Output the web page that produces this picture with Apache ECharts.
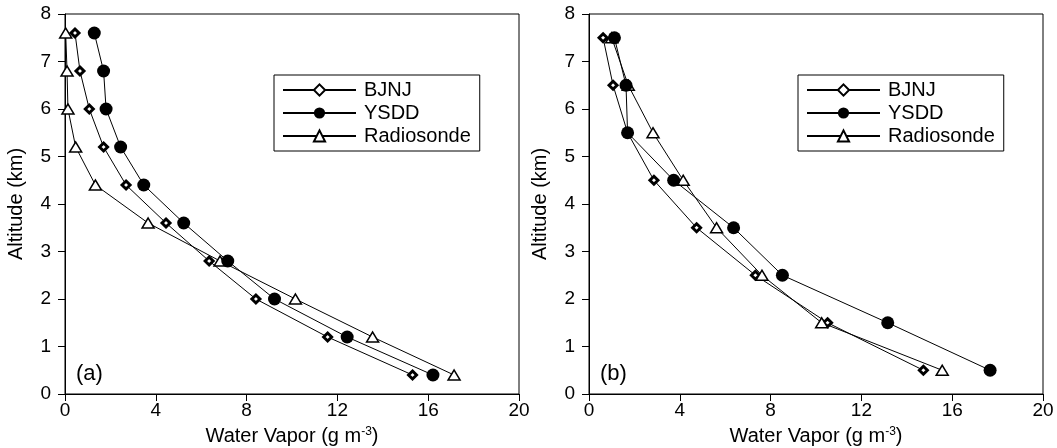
<!DOCTYPE html>
<html>
<head>
<meta charset="utf-8">
<script src="https://cdn.jsdelivr.net/npm/echarts@6/dist/echarts.min.js"></script>
<style>
	html, body { margin: 0; padding: 0; background: #fff; }
	#chart { width: 1057px; height: 448px; }
</style>
</head>
<body>
<div id="chart"></div>
<script>
// panel (a)
var altA = [7.6, 6.8, 6.0, 5.2, 4.4, 3.6, 2.8, 2.0, 1.2, 0.4];
var bjnjA = [0.44, 0.66, 1.07, 1.70, 2.69, 4.45, 6.35, 8.41, 11.57, 15.31];
var ysddA = [1.29, 1.70, 1.81, 2.45, 3.47, 5.23, 7.17, 9.23, 12.43, 16.21];
var radioA = [0.03, 0.09, 0.13, 0.47, 1.34, 3.66, 6.83, 10.15, 13.55, 17.14];

// panel (b)
var altB = [7.5, 6.5, 5.5, 4.5, 3.5, 2.5, 1.5, 0.5];
var bjnjB = [0.62, 1.06, 1.70, 2.86, 4.74, 7.33, 10.51, 14.73];
var ysddB = [1.12, 1.63, 1.70, 3.73, 6.37, 8.52, 13.16, 17.67];
var radioB = [1.00, 1.73, 2.82, 4.15, 5.62, 7.62, 10.25, 15.56];

var seriesNames = ['BJNJ', 'YSDD', 'Radiosonde'];
var panelLabels = ['(a)', '(b)'];

var FONT = '"Liberation Sans", Arial, sans-serif';

var chart = echarts.init(document.getElementById('chart'), null, { renderer: 'canvas' });

function pairs(xs, ys) {
	var out = [];
	for (var i = 0; i < xs.length; i++) {
		out.push([xs[i], ys[i]]);
	}
	return out;
}

// marker look for each series (filled circles sit on top)
var markStyle = [{
	symbol: 'diamond',
	symbolSize: [8, 8],
	z: 2,
	itemStyle: { color: '#fff', borderColor: '#000', borderWidth: 3 }
}, {
	symbol: 'circle',
	symbolSize: 13,
	z: 4,
	itemStyle: { color: '#000', borderColor: '#000', borderWidth: 0 }
}, {
	symbol: 'triangle',
	symbolSize: [12, 10],
	z: 3,
	itemStyle: { color: '#fff', borderColor: '#000', borderWidth: 1.5 }
}];

function makeSeries(name, k, data, idx) {
	return {
		type: 'line',
		name: name,
		xAxisIndex: idx,
		yAxisIndex: idx,
		data: data,
		symbol: markStyle[k].symbol,
		symbolSize: markStyle[k].symbolSize,
		showAllSymbol: true,
		itemStyle: markStyle[k].itemStyle,
		lineStyle: { color: '#000', width: 1 },
		animation: false,
		z: markStyle[k].z
	};
}

var series = [
	makeSeries(seriesNames[0], 0, pairs(bjnjA, altA), 0),
	makeSeries(seriesNames[1], 1, pairs(ysddA, altA), 0),
	makeSeries(seriesNames[2], 2, pairs(radioA, altA), 0),
	makeSeries(seriesNames[0], 0, pairs(bjnjB, altB), 1),
	makeSeries(seriesNames[1], 1, pairs(ysddB, altB), 1),
	makeSeries(seriesNames[2], 2, pairs(radioB, altB), 1)
];

function xAxis(idx) {
	return {
		type: 'value',
		gridIndex: idx,
		min: 0,
		max: 20,
		interval: 4,
		name: 'Water Vapor (g m{sup|-3})',
		nameLocation: 'middle',
		nameGap: 32,
		nameTextStyle: {
			color: '#000', fontFamily: FONT, fontSize: 20, lineHeight: 21,
			rich: { sup: { fontSize: 12, fontFamily: FONT, color: '#000', verticalAlign: 'top', lineHeight: 12 } }
		},
		axisLine: { lineStyle: { color: '#000', width: 1 } },
		axisTick: { inside: false, length: 7, lineStyle: { color: '#000' } },
		axisLabel: { color: '#000', fontFamily: FONT, fontSize: 19, margin: 7 },
		splitLine: { show: false }
	};
}

function yAxis(idx) {
	return {
		type: 'value',
		gridIndex: idx,
		min: 0,
		max: 8,
		interval: 1,
		name: 'Altitude (km)',
		nameLocation: 'middle',
		nameGap: 39,
		nameTextStyle: { color: '#000', fontFamily: FONT, fontSize: 20 },
		axisLine: { lineStyle: { color: '#000', width: 1 } },
		axisTick: { inside: false, length: 7, lineStyle: { color: '#000' } },
		axisLabel: { color: '#000', fontFamily: FONT, fontSize: 19, margin: 14 },
		splitLine: { show: false }
	};
}

function legend(left) {
	return {
		orient: 'vertical',
		left: left,
		top: 75,
		data: seriesNames,
		itemWidth: 73,
		itemHeight: 14,
		itemGap: 3,
		padding: [5, 9, 5, 8],
		borderColor: '#000',
		borderWidth: 1,
		backgroundColor: '#fff',
		selectedMode: false,
		textStyle: { color: '#000', fontFamily: FONT, fontSize: 20, padding: [0, 0, 0, 3] }
	};
}

var option = {
	backgroundColor: '#fff',
	animation: false,
	title: [{
		text: panelLabels[0],
		left: 76,
		top: 363,
		padding: 0,
		textStyle: { color: '#000', fontFamily: FONT, fontSize: 22, fontWeight: 'normal' }
	}, {
		text: panelLabels[1],
		left: 600,
		top: 363,
		padding: 0,
		textStyle: { color: '#000', fontFamily: FONT, fontSize: 22, fontWeight: 'normal' }
	}],
	legend: [legend(274), legend(798)],
	grid: [{
		left: 65, right: 538, top: 14, bottom: 54,
		outerBoundsMode: 'none', containLabel: false,
		show: true, borderColor: '#000', borderWidth: 1, backgroundColor: 'transparent'
	}, {
		left: 589, right: 14, top: 14, bottom: 54,
		outerBoundsMode: 'none', containLabel: false,
		show: true, borderColor: '#000', borderWidth: 1, backgroundColor: 'transparent'
	}],
	xAxis: [xAxis(0), xAxis(1)],
	yAxis: [yAxis(0), yAxis(1)],
	series: series
};

chart.setOption(option);
</script>
</body>
</html>
